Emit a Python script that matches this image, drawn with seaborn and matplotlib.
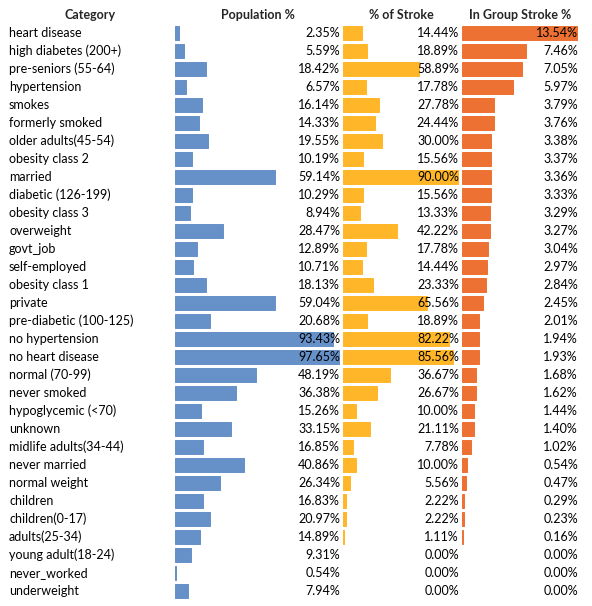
import matplotlib
matplotlib.use("Agg")
import matplotlib.pyplot as plt
import seaborn as sns
import pandas as pd

categorias = [
    "heart disease", "high diabetes (200+)", "pre-seniors (55-64)", "hypertension",
    "smokes", "formerly smoked", "older adults(45-54)", "obesity class 2",
    "married", "diabetic (126-199)", "obesity class 3", "overweight",
    "govt_job", "self-employed", "obesity class 1", "private",
    "pre-diabetic (100-125)", "no hypertension", "no heart disease", "normal (70-99)",
    "never smoked", "hypoglycemic (<70)", "unknown", "midlife adults(34-44)",
    "never married", "normal weight", "children", "children(0-17)",
    "adults(25-34)", "young adult(18-24)", "never_worked", "underweight",
]
populacao = [2.35, 5.59, 18.42, 6.57, 16.14, 14.33, 19.55, 10.19,
             59.14, 10.29, 8.94, 28.47, 12.89, 10.71, 18.13, 59.04,
             20.68, 93.43, 97.65, 48.19, 36.38, 15.26, 33.15, 16.85,
             40.86, 26.34, 16.83, 20.97, 14.89, 9.31, 0.54, 7.94]
pct_avc = [14.44, 18.89, 58.89, 17.78, 27.78, 24.44, 30.00, 15.56,
           90.00, 15.56, 13.33, 42.22, 17.78, 14.44, 23.33, 65.56,
           18.89, 82.22, 85.56, 36.67, 26.67, 10.00, 21.11, 7.78,
           10.00, 5.56, 2.22, 2.22, 1.11, 0.00, 0.00, 0.00]
avc_no_grupo = [13.54, 7.46, 7.05, 5.97, 3.79, 3.76, 3.38, 3.37,
                3.36, 3.33, 3.29, 3.27, 3.04, 2.97, 2.84, 2.45,
                2.01, 1.94, 1.93, 1.68, 1.62, 1.44, 1.40, 1.02,
                0.54, 0.47, 0.29, 0.23, 0.16, 0.00, 0.00, 0.00]

df = pd.DataFrame({"Category": categorias, "Population %": populacao,
                   "% of Stroke": pct_avc, "In Group Stroke %": avc_no_grupo})

sns.set_style("white")
plt.rcParams["font.family"] = ["Lato", "DejaVu Sans"]

W, H = 592, 606
fig = plt.figure(figsize=(W / 100, H / 100), dpi=100)

n = len(categorias)
topo, passo = 24, 18
fundo = topo + n * passo

# (coluna, cor, x inicial, x final, titulo x)
colunas = [
    ("Population %", "#6690C8", 175, 340, 258),
    ("% of Stroke", "#FFB628", 343, 459, 401),
    ("In Group Stroke %", "#ED7132", 462, 578, 520),
]

for nome, cor, x0, x1, tx in colunas:
    ax = fig.add_axes([x0 / W, (H - fundo) / H, (x1 - x0) / W, (fundo - topo) / H])
    sns.barplot(data=df, x=nome, y="Category", orient="h", color=cor,
                saturation=1, width=0.75, ax=ax)
    # barras muito finas ganham uma borda para aparecerem, as zeradas nao
    for barra in ax.patches:
        if barra.get_width() > 0:
            barra.set_edgecolor(cor)
            barra.set_linewidth(0.7)
        else:
            barra.set_linewidth(0)
    ax.set_xlim(0, df[nome].max())
    ax.set_ylim(n - 0.5, -0.5)
    ax.axis("off")
    for i, v in enumerate(df[nome]):
        ax.text(1.0, i, f"{v:.2f}%", transform=ax.get_yaxis_transform(),
                ha="right", va="center", fontsize=9, color="#000000")
    fig.text(tx / W, 1 - 15 / H, nome, ha="center", va="center",
             fontsize=9, fontweight="bold")

fig.text(90 / W, 1 - 15 / H, "Category", ha="center", va="center",
         fontsize=9, fontweight="bold")
for i, c in enumerate(categorias):
    y = topo + i * passo + passo / 2
    fig.text(9 / W, 1 - y / H, c, ha="left", va="center", fontsize=9, color="#000000")

fig.savefig("out.png", dpi=100)
